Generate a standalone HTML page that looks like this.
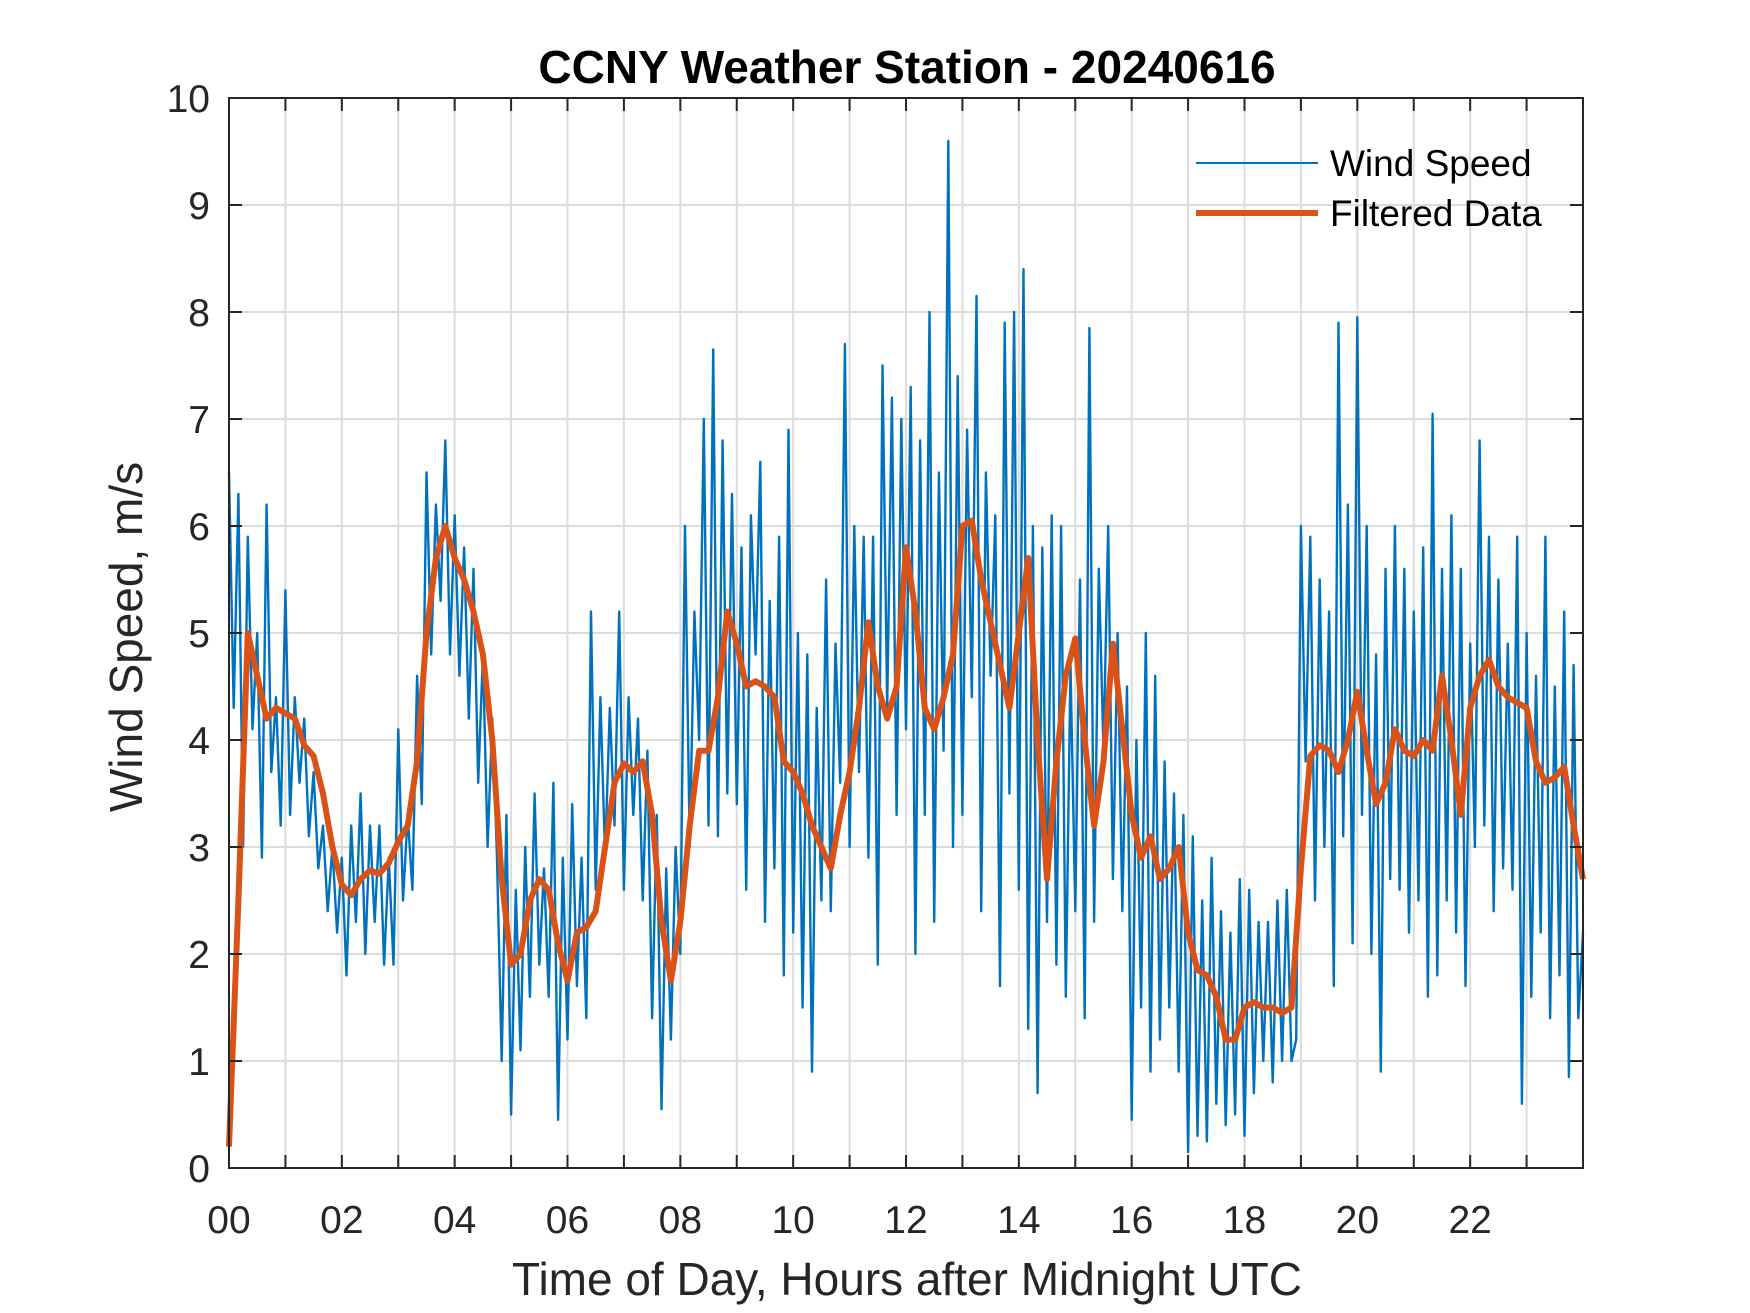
<!DOCTYPE html>
<html><head><meta charset="utf-8"><style>
html,body{margin:0;padding:0;background:#fff}
svg{display:block}
text{font-family:"Liberation Sans",sans-serif;fill:#262626}
</style></head><body>
<svg id="chart" width="1750" height="1313" viewBox="0 0 1750 1313" xmlns="http://www.w3.org/2000/svg">
<rect width="1750" height="1313" fill="#fff"/>
<g id="grid"></g>
<g id="series"></g>
<g id="axes"></g>
<text x="907" y="83" text-anchor="middle" font-size="46" font-weight="bold" style="fill:#000">CCNY Weather Station - 20240616</text>
<text x="907" y="1295" text-anchor="middle" font-size="46">Time of Day, Hours after Midnight UTC</text>
<text transform="translate(142,637) rotate(-90)" text-anchor="middle" font-size="46">Wind Speed, m/s</text>
<g>
<line x1="1196" y1="163" x2="1318" y2="163" stroke="#0072BD" stroke-width="2"/>
<text x="1330" y="176" font-size="37" style="fill:#000">Wind Speed</text>
<line x1="1196" y1="213" x2="1318" y2="213" stroke="#D95319" stroke-width="6"/>
<text x="1330" y="226" font-size="37" style="fill:#000">Filtered Data</text>
</g>
</svg>
<script>
const xTickLabels = ["00","02","04","06","08","10","12","14","16","18","20","22"];
const yTickLabels = ["0","1","2","3","4","5","6","7","8","9","10"];
const windSpeed = [
6.5,4.3,6.3,3.0,5.9,4.1,5.0,2.9,6.2,3.7,4.4,3.2,
5.4,3.3,4.4,3.6,4.2,3.1,3.7,2.8,3.2,2.4,3.0,2.2,
2.9,1.8,3.2,2.3,3.5,2.0,3.2,2.3,3.2,1.9,2.9,1.9,
4.1,2.5,3.3,2.6,4.6,3.4,6.5,4.8,6.2,5.3,6.8,4.8,
6.1,4.6,5.8,4.2,5.6,3.6,4.8,3.0,4.2,2.9,1.0,3.3,
0.5,2.6,1.1,3.0,1.6,3.5,1.9,2.8,1.6,3.6,0.45,2.9,
1.2,3.4,1.7,2.9,1.4,5.2,2.6,4.4,2.9,4.3,3.2,5.2,
2.6,4.4,3.3,4.2,2.5,3.9,1.4,3.3,0.55,2.8,1.2,3.0,
2.0,6.0,3.0,5.2,4.0,7.0,3.2,7.65,3.1,6.8,3.5,6.3,
3.4,5.8,2.6,6.1,4.8,6.6,2.3,5.3,2.8,5.9,1.8,6.9,
2.2,5.0,1.5,4.8,0.9,4.3,2.5,5.5,2.4,4.9,3.6,7.7,
3.0,6.0,3.7,5.9,2.9,5.9,1.9,7.5,4.3,7.2,3.3,7.0,
4.1,7.3,2.0,6.8,3.3,8.0,2.3,6.5,3.9,9.6,3.0,7.4,
3.3,6.9,4.4,8.15,2.4,6.5,4.6,6.1,1.7,7.9,3.5,8.0,
2.6,8.4,1.3,6.0,0.7,5.8,2.3,6.1,1.9,6.0,1.6,4.7,
2.4,5.5,1.4,7.85,2.3,5.6,3.9,6.0,2.7,5.0,2.4,4.5,
0.45,4.0,1.5,5.0,0.9,4.6,1.2,3.8,1.5,3.5,0.9,3.3,
0.15,3.1,0.3,2.5,0.25,2.9,0.6,2.4,0.4,2.2,0.5,2.7,
0.3,2.6,0.7,2.3,1.0,2.3,0.8,2.5,1.0,2.6,1.0,1.2,
6.0,3.8,5.9,2.5,5.5,3.0,5.2,1.7,7.9,3.1,6.2,2.1,
7.95,3.3,6.0,2.0,4.8,0.9,5.6,2.7,6.0,2.6,5.6,2.2,
5.2,2.5,5.8,1.6,7.05,1.8,5.6,2.5,6.1,2.2,5.6,1.7,
4.9,3.0,6.8,3.2,5.9,2.4,5.5,2.8,4.9,2.6,5.9,0.6,
5.0,1.6,4.6,2.2,5.9,1.4,4.5,1.8,5.2,0.85,4.7,1.4,
2.2];
const filtered = [
0.2,2.5,5.0,4.6,4.2,4.3,
4.25,4.2,3.95,3.85,3.5,3.0,
2.65,2.55,2.7,2.78,2.75,2.85,
3.05,3.2,3.8,5.0,5.7,6.0,
5.7,5.5,5.2,4.8,4.0,2.7,
1.9,2.0,2.5,2.7,2.6,2.1,
1.75,2.2,2.25,2.4,3.0,3.6,
3.78,3.7,3.8,3.3,2.3,1.75,
2.3,3.2,3.9,3.9,4.4,5.2,
4.9,4.5,4.55,4.5,4.4,3.8,
3.7,3.5,3.2,3.0,2.8,3.3,
3.7,4.3,5.1,4.5,4.2,4.5,
5.8,5.2,4.3,4.1,4.4,4.8,
6.0,6.05,5.5,5.1,4.7,4.3,
5.0,5.7,4.0,2.7,3.8,4.6,
4.95,4.0,3.2,3.8,4.9,4.1,
3.3,2.9,3.1,2.7,2.8,3.0,
2.2,1.85,1.8,1.6,1.2,1.2,
1.5,1.55,1.5,1.5,1.45,1.5,
2.8,3.85,3.95,3.9,3.7,4.0,
4.45,3.9,3.4,3.6,4.1,3.9,
3.85,4.0,3.9,4.6,4.0,3.3,
4.3,4.6,4.75,4.5,4.4,4.35,
4.3,3.8,3.6,3.65,3.75,3.2,
2.7];
const NS="http://www.w3.org/2000/svg";
const L=229,R=1583,T=98,B=1168,XMAX=24,YMAX=10;
function xs(h){return L+(h/XMAX)*(R-L);}
function ys(v){return B-(v/YMAX)*(B-T);}
function mk(tag,attrs,parent){const e=document.createElementNS(NS,tag);for(const k in attrs)e.setAttribute(k,attrs[k]);parent.appendChild(e);return e;}
const grid=document.getElementById('grid'),axes=document.getElementById('axes'),series=document.getElementById('series');
for(let h=1;h<XMAX;h++){
  const g=mk('line',{x1:xs(h),x2:xs(h),y1:T,y2:B,stroke:'#dcdcdc','stroke-width':2},grid);
  
  
  const t1=mk('line',{x1:xs(h),x2:xs(h),y1:B,y2:B-13,stroke:'#262626','stroke-width':2},axes);
  
  
  const t2=mk('line',{x1:xs(h),x2:xs(h),y1:T,y2:T+13,stroke:'#262626','stroke-width':2},axes);
  
  
}
xTickLabels.forEach((lab,i)=>{
  const t=mk('text',{x:xs(i*2),y:1233,'text-anchor':'middle','font-size':39},axes);
  t.textContent=lab;
  
  
});
yTickLabels.forEach((lab,i)=>{
  if(i>0&&i<YMAX){
    const g=mk('line',{x1:L,x2:R,y1:ys(i),y2:ys(i),stroke:'#dcdcdc','stroke-width':2},grid);
    
    
    const t1=mk('line',{x1:L,x2:L+13,y1:ys(i),y2:ys(i),stroke:'#262626','stroke-width':2},axes);
    
    
    const t2=mk('line',{x1:R,x2:R-13,y1:ys(i),y2:ys(i),stroke:'#262626','stroke-width':2},axes);
    
    
  }
  const t=mk('text',{x:210,y:ys(i)+14,'text-anchor':'end','font-size':39},axes);
  t.textContent=lab;
  
  
});
const box=mk('rect',{x:L,y:T,width:R-L,height:B-T,fill:'none',stroke:'#262626','stroke-width':2},axes);


const wStep=XMAX/(windSpeed.length-1);
const wp=windSpeed.map((v,i)=>xs(i*wStep).toFixed(1)+','+ys(v).toFixed(1)).join(' ');
const wl=mk('polyline',{points:wp,fill:'none',stroke:'#0072BD','stroke-width':2.4,'stroke-linejoin':'round'},series);


const fStep=XMAX/(filtered.length-1);
const fp=filtered.map((v,i)=>xs(i*fStep).toFixed(1)+','+ys(v).toFixed(1)).join(' ');
const fl=mk('polyline',{points:fp,fill:'none',stroke:'#D95319','stroke-width':6,'stroke-linejoin':'round'},series);


</script>
</body></html>
